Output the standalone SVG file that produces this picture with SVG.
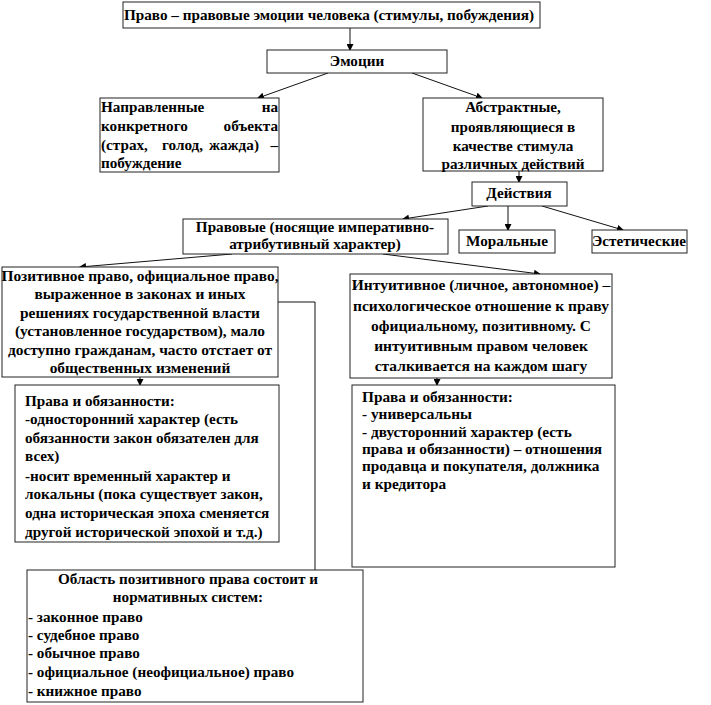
<svg xmlns="http://www.w3.org/2000/svg" width="711" height="705" viewBox="0 0 711 705">
<defs>
<marker id="ah" markerWidth="7" markerHeight="7" refX="6" refY="3.5" orient="auto" markerUnits="userSpaceOnUse">
<path d="M0,0 L7,3.5 L0,7 Z" fill="#000"/>
</marker>
</defs>
<style>
.box{fill:#fff;stroke:#222;stroke-width:1}
.c{text-anchor:middle}
.e{text-anchor:end}
.ln{stroke:#111;stroke-width:1;fill:none}
.ar{stroke:#111;stroke-width:1;fill:none;marker-end:url(#ah)}
</style>
<rect width="711" height="705" fill="#fff"/>

<g id="connectors">
<path class="ar" d="M350,28 L350,50"/>
<path class="ar" d="M328,73 L258,98"/>
<path class="ar" d="M412,73 L482,98"/>
<path class="ar" d="M519,171 L519,182"/>
<path class="ar" d="M488,206 L403,219"/>
<path class="ar" d="M508,206 L508,230"/>
<path class="ar" d="M542,206 L623,230"/>
<path class="ar" d="M232,254 L80,267"/>
<path class="ar" d="M383,254 L540,274"/>
<path class="ar" d="M140,377 L140,385"/>
<path class="ar" d="M437,378 L437,385"/>
<path class="ln" d="M278,302 L315,302 L315,570"/>
</g>

<g font-family="Liberation Serif, serif" font-weight="bold" font-size="15.2" fill="#000">
<g id="n-pravo">
<rect class="box" x="123" y="2" width="417" height="26"/>
<text x="124" y="20">Право – правовые эмоции человека (стимулы, побуждения)</text>
</g>

<g id="n-emocii">
<rect class="box" x="267" y="50" width="180" height="23"/>
<text class="c" x="357" y="66">Эмоции</text>
</g>

<g id="n-napravl">
<rect class="box" x="100" y="98" width="179" height="74"/>
<text x="101" y="112">Направленные</text>
<text class="e" x="278" y="112">на</text>
<text x="101" y="131">конкретного</text>
<text class="e" x="278" y="131">объекта</text>
<text x="101" y="150">(страх,</text>
<text x="162" y="150">голод,</text>
<text x="209" y="150">жажда)</text>
<text class="e" x="278" y="150">–</text>
<text x="101" y="168">побуждение</text>
</g>

<g id="n-abstr">
<rect class="box" x="423" y="98" width="180" height="73"/>
<text class="c" x="513" y="112">Абстрактные,</text>
<text class="c" x="513" y="132">проявляющиеся в</text>
<text class="c" x="513" y="151">качестве стимула</text>
<text class="c" x="513" y="169">различных действий</text>
</g>

<g id="n-deystv">
<rect class="box" x="472" y="182" width="95" height="24"/>
<text class="c" x="519" y="198">Действия</text>
</g>

<g id="n-pravovye">
<rect class="box" x="183" y="219" width="265" height="35"/>
<text class="c" x="315" y="232">Правовые (носящие императивно-</text>
<text class="c" x="315" y="249">атрибутивный характер)</text>
</g>

<g id="n-moral">
<rect class="box" x="459" y="230" width="96" height="23"/>
<text class="c" x="507" y="246">Моральные</text>
</g>

<g id="n-estet">
<rect class="box" x="592" y="230" width="95" height="23"/>
<text class="c" x="639" y="246">Эстетические</text>
</g>

<g id="n-pozit" font-size="15.4">
<rect class="box" x="2" y="267" width="276" height="110"/>
<text class="c" x="140" y="281">Позитивное право, официальное право,</text>
<text class="c" x="140" y="299">выраженное в законах и иных</text>
<text class="c" x="140" y="318">решениях государственной власти</text>
<text class="c" x="140" y="336">(установленное государством), мало</text>
<text class="c" x="140" y="355">доступно гражданам, часто отстает от</text>
<text class="c" x="140" y="373">общественных изменений</text>
</g>

<g id="n-intuit" font-size="15.5">
<rect class="box" x="350" y="274" width="262" height="104"/>
<text class="c" x="481" y="290">Интуитивное (личное, автономное) –</text>
<text class="c" x="481" y="311">психологическое  отношение к праву</text>
<text class="c" x="481" y="331">официальному, позитивному. С</text>
<text class="c" x="481" y="351">интуитивным правом человек</text>
<text class="c" x="481" y="371">сталкивается на каждом шагу</text>
</g>

<g id="n-rights1">
<rect class="box" x="15" y="385" width="264" height="157"/>
<text x="25" y="406">Права и обязанности:</text>
<text x="25" y="424">-односторонний характер (есть</text>
<text x="25" y="443">обязанности закон обязателен для</text>
<text x="25" y="461">всех)</text>
<text x="25" y="481">-носит временный характер и</text>
<text x="25" y="499">локальны (пока существует  закон,</text>
<text x="25" y="518">одна историческая эпоха сменяется</text>
<text x="25" y="537">другой исторической эпохой и т.д.)</text>
</g>

<g id="n-rights2" font-size="15.3">
<rect class="box" x="352" y="385" width="263" height="182"/>
<text x="362" y="402">Права и обязанности:</text>
<text x="362" y="419">- универсальны</text>
<text x="362" y="437">- двусторонний характер  (есть</text>
<text x="362" y="454">права и обязанности) – отношения</text>
<text x="362" y="471">продавца и покупателя, должника</text>
<text x="362" y="489">и кредитора</text>
</g>

<g id="n-oblast">
<rect class="box" x="27" y="570" width="336" height="132"/>
<text class="c" x="188" y="584">Область позитивного права состоит и</text>
<text class="c" x="188" y="602">нормативных систем:</text>
<text x="28" y="622">- законное право</text>
<text x="28" y="640">- судебное право</text>
<text x="28" y="658">- обычное право</text>
<text x="28" y="677">- официальное (неофициальное) право</text>
<text x="28" y="696">- книжное право</text>
</g>
</g>
</svg>
